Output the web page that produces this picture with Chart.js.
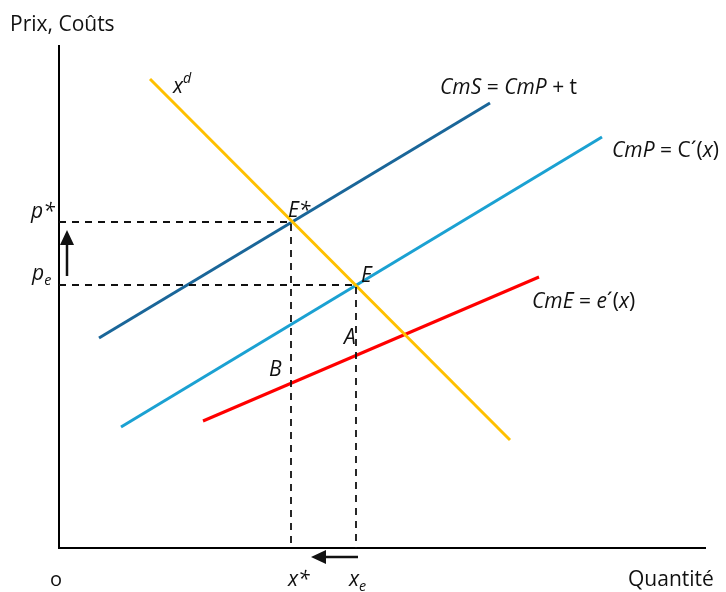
<!DOCTYPE html>
<html>
<head>
<meta charset="utf-8">
<script src="https://cdn.jsdelivr.net/npm/chart.js@4"></script>
<style>
  body { margin: 0; background: #fff; }
  #box { width: 726px; height: 592px; }
</style>
</head>
<body>
<div id="box"><canvas id="canvasGrafico"></canvas></div>
<script>
// valeurs (unites arbitraires, origine au coin des axes)
const axes = [{x: 0, y: 503}, {x: 0, y: 0}, {x: 647, y: 0}];
const demande = [{x: 91, y: 469}, {x: 451, y: 108}];       // x^d
const coutSocial = [{x: 40, y: 210}, {x: 431, y: 445}];     // CmS
const coutPrive = [{x: 62, y: 121}, {x: 543, y: 411}];      // CmP
const coutExterne = [{x: 144, y: 127}, {x: 480, y: 271}];   // CmE
const optimum = [{x: 0, y: 326}, {x: 232, y: 326}, {x: 232, y: 0}];   // p*, x*
const equilibre = [{x: 0, y: 263}, {x: 297, y: 263}, {x: 297, y: 0}]; // pe, xe

// textes (segments : texte, style)
const etiquettes = [
  {x: -49, y: 517, size: 21, parts: [['Prix, Coûts', 'n']]},
  {x: -9, y: -38, size: 20, parts: [['o', 'n']]},
  {x: 569, y: -38, size: 21, parts: [['Quantité', 'n']]},
  {x: 229, y: -38, size: 21, parts: [['x*', 'i']]},
  {x: 290, y: -38, size: 21, parts: [['x', 'i'], ['e', 'sub']]},
  {x: -28, y: 330, size: 21, parts: [['p*', 'i']]},
  {x: -27, y: 268, size: 21, parts: [['p', 'i'], ['e', 'sub']]},
  {x: 229, y: 331, size: 21, parts: [['E*', 'i']]},
  {x: 302, y: 266, size: 21, parts: [['E', 'i']]},
  {x: 285, y: 204, size: 21, parts: [['A', 'i']]},
  {x: 210, y: 172, size: 21, parts: [['B', 'i']]},
  {x: 114, y: 455, size: 21, parts: [['x', 'i'], ['d', 'sup']]},
  {x: 381, y: 454, size: 21, parts: [['CmS', 'i'], [' = ', 'n'], ['CmP', 'i'], [' + t', 'n']]},
  {x: 553, y: 391, size: 21, parts: [['CmP', 'i'], [' = C´(', 'n'], ['x', 'i'], [')', 'n']]},
  {x: 473, y: 240, size: 21, parts: [['CmE', 'i'], [' = ', 'n'], ['e', 'i'], ['´(', 'n'], ['x', 'i'], [')', 'n']]}
];

// fleches : depart -> pointe
const fleches = [
  {from: {x: 8, y: 272}, to: {x: 8, y: 318}},
  {from: {x: 299, y: -9}, to: {x: 252, y: -9}}
];

const police = '"Open Sans", "Noto Sans", sans-serif';

const pluginTextes = {
  id: 'textes',
  afterDatasetsDraw(chart) {
    const ctx = chart.ctx;
    const sx = chart.scales.x, sy = chart.scales.y;
    ctx.save();
    ctx.fillStyle = '#111';
    ctx.strokeStyle = '#111';
    ctx.textBaseline = 'alphabetic';
    ctx.textAlign = 'left';
    etiquettes.forEach(function (e) {
      let px = sx.getPixelForValue(e.x);
      const py = sy.getPixelForValue(e.y);
      e.parts.forEach(function (p) {
        let size = e.size, dy = 0, style = '';
        if (p[1] == 'i') style = 'italic ';
        if (p[1] == 'sub') { style = 'italic '; size = e.size * 0.68; dy = 5; }
        if (p[1] == 'sup') { style = 'italic '; size = e.size * 0.68; dy = -10; }
        ctx.font = style + size + 'px ' + police;
        ctx.fillText(p[0], px, py + dy);
        px += ctx.measureText(p[0]).width;
      });
    });
    fleches.forEach(function (f) {
      const x1 = sx.getPixelForValue(f.from.x), y1 = sy.getPixelForValue(f.from.y);
      const x2 = sx.getPixelForValue(f.to.x), y2 = sy.getPixelForValue(f.to.y);
      const a = Math.atan2(y2 - y1, x2 - x1);
      const L = 15, W = 7;
      const bx = x2 - L * Math.cos(a), by = y2 - L * Math.sin(a);
      ctx.lineWidth = 2.5;
      ctx.beginPath();
      ctx.moveTo(x1, y1);
      ctx.lineTo(bx, by);
      ctx.stroke();
      ctx.beginPath();
      ctx.moveTo(x2, y2);
      ctx.lineTo(bx + W * Math.sin(a), by - W * Math.cos(a));
      ctx.lineTo(bx - W * Math.sin(a), by + W * Math.cos(a));
      ctx.closePath();
      ctx.fill();
    });
    ctx.restore();
  }
};

function serie(points, couleur, largeur, tirets) {
  return {
    data: points,
    borderColor: couleur,
    borderWidth: largeur,
    borderDash: tirets || [],
    pointRadius: 0,
    fill: false,
    tension: 0,
    clip: false
  };
}

const data = {
  datasets: [
    serie(optimum, '#111', 1.8, [7, 6]),
    serie(equilibre, '#111', 1.8, [7, 6]),
    serie(demande, '#FFC000', 3),
    serie(coutSocial, '#1A6699', 3),
    serie(coutPrive, '#1BA1D2', 3),
    serie(coutExterne, '#FF0000', 3),
    serie(axes, '#000', 2)
  ]
};

const config = {
  type: 'line',
  data: data,
  options: {
    responsive: true,
    maintainAspectRatio: false,
    animation: false,
    layout: {
      padding: {left: 59, top: 45, right: 20, bottom: 44}
    },
    plugins: {
      legend: {display: false},
      tooltip: {enabled: false}
    },
    scales: {
      x: {type: 'linear', min: 0, max: 647, display: false},
      y: {type: 'linear', min: 0, max: 503, display: false}
    }
  },
  plugins: [pluginTextes]
};

const graficoDash = new Chart(
  document.getElementById('canvasGrafico'),
  config
);
</script>
</body>
</html>
